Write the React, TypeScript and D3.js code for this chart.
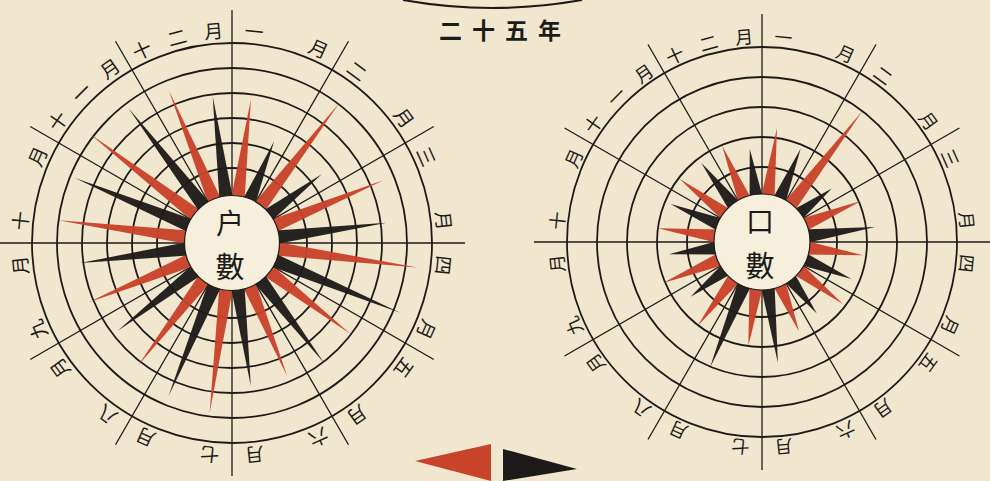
import React from "react";
import * as d3 from "d3";

// ---- data ----
const MONTHS = ["一月", "二月", "三月", "四月", "五月", "六月", "七月", "八月", "九月", "十月", "十一月", "十二月"];
const TITLE = "二十五年";
// 戶數 (households) – spike lengths in ring units (1 unit = one ring spacing)
const HOUSE_RED = [5.8, 7.04, 6.56, 7.48, 5.96, 5.76, 6.88, 6.16, 6.2, 7.0, 7.16, 6.6];
const HOUSE_BLACK = [4.4, 4.52, 6.24, 7.28, 6.04, 5.76, 6.64, 5.76, 6.12, 6.8, 6.8, 5.92];
const HOUSE_RINGS = [3, 4, 5, 6, 7, 8];
// 口數 (population)
const POP_RED = [3.83, 5.5, 3.57, 3.4, 3.4, 3.23, 3.5, 3.53, 3.57, 3.5, 3.47, 3.47];
const POP_BLACK = [3.37, 2.93, 3.8, 3.23, 3.0, 4.07, 4.53, 3.0, 3.13, 3.3, 3.33, 3.13];
const POP_RINGS = [2.5, 3.5, 4.5, 5.5, 6.5];

const W = 990;
const H = 481;
const PAPER = "#f1e7cf";
const INK = "#1d1b1a";
const RED = "#c9432b";
const FONT = "'Noto Sans CJK JP', 'Noto Sans CJK SC', sans-serif";

type ChartProps = {
  cx: number;
  cy: number;
  unit: number;
  rings: number[];
  red: number[];
  black: number[];
  discR: number;
  lineR: number;
  labelR: number;
  labelSize: number;
  center: [string, string];
  centerDy: [number, number];
};

function polar(cx: number, cy: number, r: number, deg: number): [number, number] {
  const a = (deg * Math.PI) / 180;
  return [cx + r * Math.sin(a), cy - r * Math.cos(a)];
}

function Star(p: ChartProps) {
  const { cx, cy, discR } = p;
  const maxV = d3.max(p.rings) as number;
  const r = d3.scaleLinear().domain([0, maxV]).range([0, maxV * p.unit]);
  const line = d3.line();

  const spikes: { ang: number; v: number; color: string }[] = [];
  p.red.forEach((v, i) => spikes.push({ ang: 30 * i + 7.5, v, color: RED }));
  p.black.forEach((v, i) => spikes.push({ ang: 30 * i + 22.5, v, color: INK }));

  const spikePath = (ang: number, v: number) => {
    const a = (ang * Math.PI) / 180;
    const ux = Math.sin(a), uy = -Math.cos(a);
    const px = Math.cos(a), py = Math.sin(a);
    const rb = discR - 6;
    const hw = 7;
    const bx = cx + rb * ux, by = cy + rb * uy;
    const tip = polar(cx, cy, r(v), ang);
    return line([[bx + hw * px, by + hw * py], tip, [bx - hw * px, by - hw * py]]) + "Z";
  };

  const dividers = d3.range(0, 360, 30);

  const labels: { ch: string; ang: number }[] = [];
  MONTHS.forEach((m, i) => {
    const chars = Array.from(m);
    const offs = chars.length === 2 ? [6, 24] : [5, 15, 25];
    chars.forEach((ch, j) => labels.push({ ch, ang: 30 * i + offs[j] }));
  });

  return (
    <g>
      {dividers.map((d) => {
        const [x2, y2] = polar(cx, cy, p.lineR, d);
        return <line key={"d" + d} x1={cx} y1={cy} x2={x2} y2={y2} stroke={INK} strokeWidth={1.3} />;
      })}
      {p.rings.map((v) => (
        <circle key={"r" + v} cx={cx} cy={cy} r={r(v)} fill="none" stroke={INK} strokeWidth={1.8} />
      ))}
      {spikes.map((s, i) => (
        <path key={"s" + i} d={spikePath(s.ang, s.v)} fill={s.color} opacity={0.96} />
      ))}
      <circle cx={cx} cy={cy} r={discR} fill="#f6efdc" stroke={INK} strokeWidth={1.2} />
      <text x={cx - 2} y={cy + p.centerDy[0]} textAnchor="middle" dominantBaseline="central" fontFamily={FONT} fontSize={28} fill={INK}>
        {p.center[0]}
      </text>
      <text x={cx - 2} y={cy + p.centerDy[1]} textAnchor="middle" dominantBaseline="central" fontFamily={FONT} fontSize={29} fill={INK}>
        {p.center[1]}
      </text>
      {labels.map((l, i) => {
        const [x, y] = polar(cx, cy, p.labelR, l.ang);
        return (
          <text
            key={"l" + i}
            transform={`translate(${x},${y}) rotate(${l.ang})`}
            textAnchor="middle"
            dominantBaseline="central"
            fontFamily={FONT}
            fontSize={p.labelSize}
            fill={INK}
          >
            {l.ch}
          </text>
        );
      })}
    </g>
  );
}

export default function App() {
  const arc = d3.path();
  arc.moveTo(403, 0);
  arc.quadraticCurveTo(492, 16, 582, 0);
  const legendLine = d3.line();
  return (
    <svg width={W} height={H} style={{ position: "absolute", left: 0, top: 0, background: PAPER }}>
      <rect x={0} y={0} width={W} height={H} fill={PAPER} />
      <path d={arc.toString()} fill="none" stroke={INK} strokeWidth={2.2} />
      <text x={505} y={29} textAnchor="middle" dominantBaseline="central" fontFamily={FONT} fontSize={23} fontWeight={700} letterSpacing={10} fill={INK}>
        {TITLE}
      </text>
      <Star
        cx={232}
        cy={243}
        unit={25}
        rings={HOUSE_RINGS}
        red={HOUSE_RED}
        black={HOUSE_BLACK}
        discR={47.5}
        lineR={233}
        labelR={214}
        labelSize={19}
        center={["户", "數"]}
        centerDy={[-21, 22]}
      />
      <Star
        cx={762}
        cy={242}
        unit={30}
        rings={POP_RINGS}
        red={POP_RED}
        black={POP_BLACK}
        discR={48}
        lineR={228}
        labelR={207}
        labelSize={18}
        center={["口", "數"]}
        centerDy={[-22, 22]}
      />
      <path d={legendLine([[415, 461], [491, 444], [491, 481]]) + "Z"} fill={RED} />
      <path d={legendLine([[503, 449], [577, 469], [503, 481]]) + "Z"} fill={INK} />
    </svg>
  );
}
